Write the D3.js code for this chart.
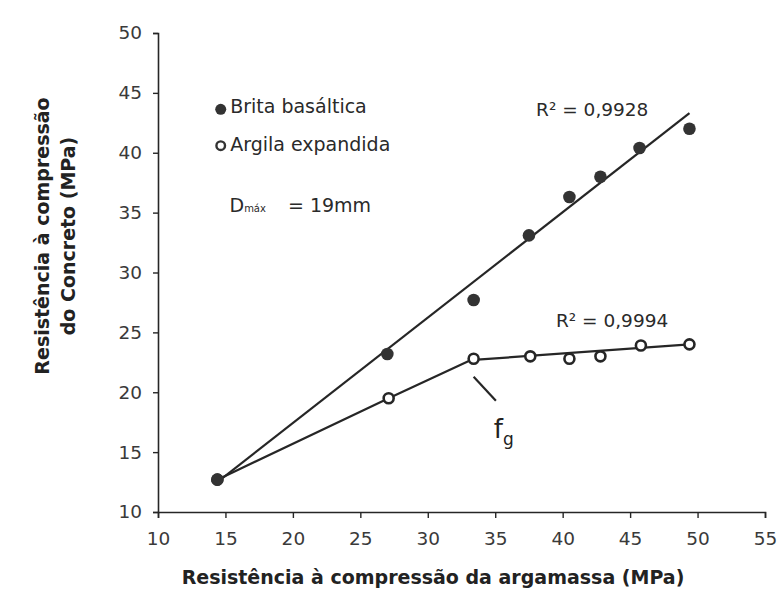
<!DOCTYPE html>
<html><head><meta charset="utf-8">
<script src="https://cdn.jsdelivr.net/npm/d3@7"></script>
<style>
body{margin:0;background:#fff;}
svg{display:block;}
</style></head>
<body>
<script>
// ---- data ----
const xBrita = [14.4, 27.0, 33.4, 37.5, 40.5, 42.8, 45.7, 49.4];
const yBrita = [12.7, 23.2, 27.7, 33.1, 36.3, 38.0, 40.4, 42.0];
const xArgila = [14.4, 27.1, 33.4, 37.6, 40.5, 42.8, 45.8, 49.4];
const yArgila = [12.7, 19.5, 22.8, 23.0, 22.8, 23.0, 23.9, 24.0];
const fitBritaX = [14.4, 49.4];
const fitBritaY = [12.5, 43.3];
const fitArgilaX = [33.4, 49.4];
const fitArgilaY = [22.7, 24.0];
const xTicks = [10, 15, 20, 25, 30, 35, 40, 45, 50, 55];
const yTicks = [10, 15, 20, 25, 30, 35, 40, 45, 50];
const legendLabels = ["Brita basáltica", "Argila expandida"];
const r2Labels = ["R² = 0,9928", "R² = 0,9994"];

const W = 780, H = 598;
const svg = d3.select("body").append("svg").attr("width", W).attr("height", H);
svg.append("rect").attr("width", W).attr("height", H).attr("fill", "#fff");

const x = d3.scaleLinear().domain([10, 55]).range([158, 765]);
const y = d3.scaleLinear().domain([10, 50]).range([512, 33]);

const FONT = "'DejaVu Sans', sans-serif";
const ink = "#262626";

// axes
const xAxis = d3.axisBottom(x).tickValues(xTicks).tickSize(6).tickSizeOuter(6).tickPadding(14).tickFormat(d3.format("d"));
const yAxis = d3.axisLeft(y).tickValues(yTicks).tickSize(5).tickSizeOuter(5).tickPadding(11).tickFormat(d3.format("d"));

const gx = svg.append("g").attr("transform", `translate(0,${y(10)})`).call(xAxis);
const gy = svg.append("g").attr("transform", `translate(${x(10)},0)`).call(yAxis);
[gx, gy].forEach(g => {
  g.select(".domain").attr("stroke", ink).attr("stroke-width", 1.6);
  g.selectAll(".tick line").attr("stroke", ink).attr("stroke-width", 1.4);
  g.selectAll(".tick text").attr("fill", "#3a3a3a").style("font-family", FONT).style("font-size", "18.5px");
});

// axis titles
svg.append("text").attr("x", 433).attr("y", 584)
  .attr("text-anchor", "middle").style("font-family", FONT).style("font-weight", "bold")
  .style("font-size", "19px").attr("fill", "#222")
  .text("Resistência à compressão da argamassa (MPa)");
const yl = svg.append("text").attr("transform", "translate(0,236) rotate(-90)")
  .attr("text-anchor", "middle").style("font-family", FONT).style("font-weight", "bold")
  .style("font-size", "19px").attr("fill", "#222");
yl.append("tspan").attr("x", 0).attr("y", 49).text("Resistência à compressão");
yl.append("tspan").attr("x", 0).attr("y", 75).text("do Concreto (MPa)");

// lines
const line = d3.line().x(d => x(d[0])).y(d => y(d[1]));
svg.append("path").datum(d3.zip(fitBritaX, fitBritaY)).attr("d", line)
  .attr("fill", "none").attr("stroke", ink).attr("stroke-width", 2.2);
svg.append("path").datum(d3.zip(xArgila, yArgila).slice(0, 3)).attr("d", line)
  .attr("fill", "none").attr("stroke", ink).attr("stroke-width", 2.2);
svg.append("path").datum(d3.zip(fitArgilaX, fitArgilaY)).attr("d", line)
  .attr("fill", "none").attr("stroke", ink).attr("stroke-width", 2.2);

// points
svg.append("g").selectAll("circle").data(d3.zip(xArgila, yArgila)).join("circle")
  .attr("cx", d => x(d[0])).attr("cy", d => y(d[1])).attr("r", 5)
  .attr("fill", "#fff").attr("stroke", ink).attr("stroke-width", 2.6);
svg.append("g").selectAll("circle").data(d3.zip(xBrita, yBrita)).join("circle")
  .attr("cx", d => x(d[0])).attr("cy", d => y(d[1])).attr("r", 6.3)
  .attr("fill", "#333");

// legend
const lg = svg.append("g").style("font-family", FONT).style("font-size", "19px").attr("fill", "#2a2a2a");
lg.append("circle").attr("cx", x(14.65)).attr("cy", y(43.63)).attr("r", 5.5).attr("fill", "#333");
lg.append("text").attr("x", x(15.35)).attr("y", y(43.32)).text(legendLabels[0]);
lg.append("circle").attr("cx", x(14.65)).attr("cy", y(40.59)).attr("r", 4.3).attr("fill", "#fff").attr("stroke", "#333").attr("stroke-width", 2.4);
lg.append("text").attr("x", x(15.35)).attr("y", y(40.15)).text(legendLabels[1]);
const dm = lg.append("text").attr("x", x(15.3)).attr("y", y(35.05));
dm.append("tspan").text("D");
dm.append("tspan").style("font-size", "10px").text("máx");
dm.append("tspan").attr("dx", 22).text("= 19mm");

// R² labels
svg.append("text").attr("x", x(38.03)).attr("y", y(43.07)).style("font-family", FONT).style("font-size", "18.5px").attr("fill", "#2a2a2a").text(r2Labels[0]);
svg.append("text").attr("x", x(39.5)).attr("y", y(25.45)).style("font-family", FONT).style("font-size", "18.5px").attr("fill", "#2a2a2a").text(r2Labels[1]);

// f_g annotation
svg.append("line").attr("x1", x(33.4)).attr("y1", y(21.3)).attr("x2", x(35.05)).attr("y2", y(19.3))
  .attr("stroke", ink).attr("stroke-width", 2.2);
const fg = svg.append("text").attr("x", x(34.9)).attr("y", y(16.2)).style("font-family", FONT).style("font-size", "26px").attr("fill", "#222");
fg.append("tspan").text("f");
fg.append("tspan").attr("dy", 7).style("font-size", "17px").text("g");
</script>
</body></html>
